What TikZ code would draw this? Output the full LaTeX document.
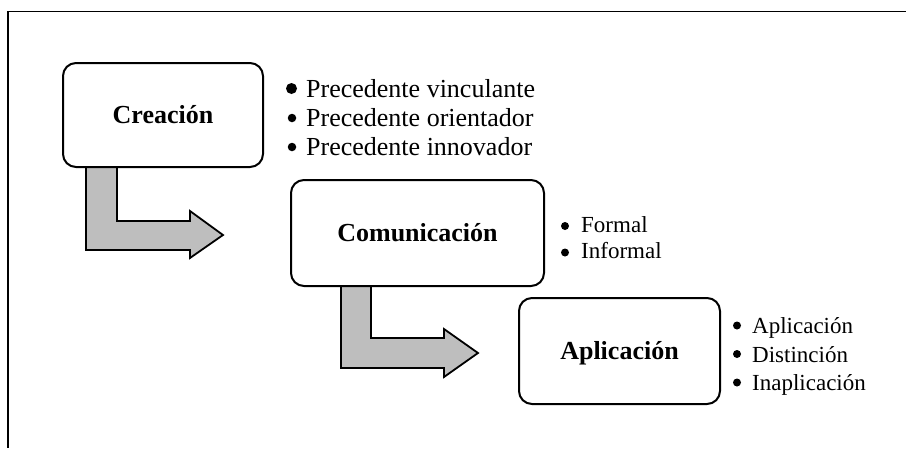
\documentclass[tikz,border=0pt]{standalone}
\usepackage{fontspec}
\setmainfont{Liberation Serif}
\usetikzlibrary{calc}
\definecolor{arrowgray}{RGB}{190,190,190}
\tikzset{
  stagebox/.style={draw=black, line width=2pt, rounded corners=13pt, fill=white,
    inner sep=0pt, text height=17.2pt, text depth=0pt,
    font=\fontsize{26}{26}\selectfont\bfseries},
  bendarrow/.style={draw=black, line width=1.8pt, fill=arrowgray, line join=miter},
  bigitem/.style={anchor=base west, inner sep=0pt, font=\fontsize{26}{26}\selectfont},
  smallitem/.style={anchor=base west, inner sep=0pt, font=\fontsize{23}{23}\selectfont},
  dotmark/.style={circle, fill=black, inner sep=0pt, minimum size=#1},
  frameline/.style={draw=black, line width=1.3pt}
}
\begin{document}
\begin{tikzpicture}[x=1pt,y=-1pt]
\useasboundingbox (0,0) rectangle (906,448);
% frame (top and left edges)
\coordinate (ftr) at (906,11.5);
\coordinate (ftl) at (8,11.5);
\coordinate (fbl) at (8,448);
\draw[frameline] (ftr) -- (ftl) -- (fbl);

% box positions
\coordinate (creC) at (163,115);
\coordinate (comC) at (417.5,233);
\coordinate (aplC) at (619.5,351);
\coordinate (creSW) at (63,167);
\coordinate (comSW) at (291,286);

% bent arrows (drawn first, boxes on top)
\draw[bendarrow]
  ($(creSW)+(23,-1)$) -- ($(creSW)+(23,83)$) -- ($(creSW)+(127,83)$) --
  ($(creSW)+(127,91)$) -- ($(creSW)+(160,68)$) -- ($(creSW)+(127,44)$) --
  ($(creSW)+(127,54)$) -- ($(creSW)+(54,54)$) -- ($(creSW)+(54,-1)$) -- cycle;
\draw[bendarrow]
  ($(comSW)+(50,-1)$) -- ($(comSW)+(50,82)$) -- ($(comSW)+(153,82)$) --
  ($(comSW)+(153,91)$) -- ($(comSW)+(187,67)$) -- ($(comSW)+(153,43)$) --
  ($(comSW)+(153,52)$) -- ($(comSW)+(80,52)$) -- ($(comSW)+(80,-1)$) -- cycle;

% boxes
\node[stagebox, minimum width=200pt, minimum height=104pt] (cre) at (creC) {Creación};
\node[stagebox, minimum width=253pt, minimum height=106pt] (com) at (comC) {Comunicación};
\node[stagebox, minimum width=201pt, minimum height=106pt] (apl) at (aplC) {Aplicación};

% item lists
\node[dotmark=11pt] (cb1) at (291.5,88.5) {};
\node[dotmark=8.5pt] (cb2) at (292,118) {};
\node[dotmark=8.5pt] (cb3) at (292,147) {};
\node[bigitem] (c1) at (306,97) {Precedente vinculante};
\node[bigitem] (c2) at (306,126) {Precedente orientador};
\node[bigitem] (c3) at (306,155) {Precedente innovador};

\node[dotmark=8pt] (mb1) at (565,226) {};
\node[dotmark=8pt] (mb2) at (565,252.5) {};
\node[smallitem] (m1) at (581,232) {Formal};
\node[smallitem] (m2) at (581,258) {Informal};

\node[dotmark=8pt] (ab1) at (737,325.5) {};
\node[dotmark=8pt] (ab2) at (737,354) {};
\node[dotmark=8pt] (ab3) at (737,382.5) {};
\node[smallitem] (a1) at (752,333) {Aplicación};
\node[smallitem] (a2) at (752,362) {Distinción};
\node[smallitem] (a3) at (752,390) {Inaplicación};
\end{tikzpicture}
\end{document}
